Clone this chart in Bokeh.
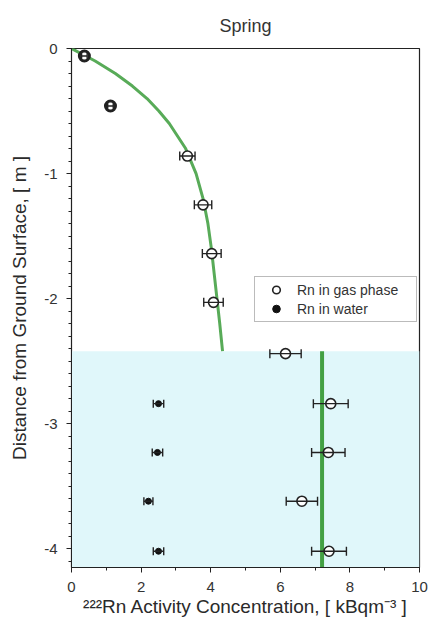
from bokeh.plotting import figure
from bokeh.models import (Whisker, TeeHead, ColumnDataSource, Legend, LegendItem,
                          SingleIntervalTicker, Range1d)
from bokeh.embed import file_html
from bokeh.resources import INLINE

# ---- data ----
title_text = "Spring"
gas_conc = [0.37, 1.12, 3.33, 3.78, 4.03, 4.08, 6.15, 7.45, 7.38, 6.62, 7.40]
gas_depth = [-0.06, -0.46, -0.86, -1.25, -1.64, -2.03, -2.44, -2.84, -3.23, -3.62, -4.02]
gas_err = [0.08, 0.08, 0.22, 0.25, 0.27, 0.28, 0.45, 0.50, 0.48, 0.45, 0.50]

water_conc = [2.50, 2.47, 2.21, 2.50]
water_depth = [-2.84, -3.23, -3.62, -4.02]
water_err = [0.15, 0.15, 0.13, 0.15]

fit_depth = [0.0, -0.1, -0.2, -0.3, -0.4, -0.5, -0.6, -0.8, -1.0, -1.2, -1.4, -1.6, -1.8, -2.0, -2.2, -2.42]
fit_conc = [0.0, 0.68, 1.26, 1.75, 2.17, 2.51, 2.81, 3.28, 3.58, 3.78, 3.92, 4.02, 4.10, 4.18, 4.26, 4.34]

bulk_depth = [-2.42, -4.15]
bulk_conc = [7.2, 7.2]

water_table = -2.42
x_min, x_max = 0, 10
y_min, y_max = -4.15, 0
y_ticks = [0, -1, -2, -3, -4]
y_tick_labels = ["0", "-1", "-2", "-3", "-4"]

x_label = "\u00b2\u00b2\u00b2Rn Activity Concentration, [ kBqm\u207b\u00b3 ]"
y_label = "Distance from Ground Surface, [ m ]"
font = "Liberation Sans"
ink = "#222222"

p = figure(width=433, height=625, output_backend="svg", toolbar_location=None,
           x_range=Range1d(x_min, x_max), y_range=Range1d(y_min, y_max),
           min_border_left=71, min_border_right=14, min_border_top=47, min_border_bottom=58)
p.xgrid.visible = False
p.ygrid.visible = False
p.outline_line_color = ink
p.outline_line_width = 1.2
p.background_fill_color = "white"
p.border_fill_color = "white"

p.title.text = title_text
p.title.align = "center"
p.title.text_font = font
p.title.text_font_size = "18px"
p.title.text_font_style = "normal"
p.title.text_color = "#333333"
p.title.standoff = 26

# saturated zone
p.quad(left=[x_min], right=[x_max], top=[water_table], bottom=[y_min],
       fill_color="#e0f7fa", line_color=None)

# fit curves
p.line(fit_conc, fit_depth, line_color="#58ab58", line_width=3)
p.line(bulk_conc, bulk_depth, line_color="#43a043", line_width=4)

# sources
gas_lw = [3.0 if d > -0.5 else 1.6 for d in gas_depth]
gsrc = ColumnDataSource(dict(x=gas_conc, y=gas_depth, lw=gas_lw,
                             lo=[c - e for c, e in zip(gas_conc, gas_err)],
                             hi=[c + e for c, e in zip(gas_conc, gas_err)]))
wsrc = ColumnDataSource(dict(x=water_conc, y=water_depth,
                             lo=[c - e for c, e in zip(water_conc, water_err)],
                             hi=[c + e for c, e in zip(water_conc, water_err)]))

# error bars
for src, cap in ((gsrc, 9), (wsrc, 8)):
    w = Whisker(source=src, base="y", lower="lo", upper="hi", dimension="width",
                level="overlay", line_color=ink, line_width=1.4,
                lower_head=TeeHead(size=cap, line_color=ink, line_width=1.4),
                upper_head=TeeHead(size=cap, line_color=ink, line_width=1.4))
    p.add_layout(w)

gas_r = p.scatter("x", "y", source=gsrc, marker="circle", size=10, level="overlay",
                  fill_color="white", line_color=ink, line_width="lw")
water_r = p.scatter("x", "y", source=wsrc, marker="circle", size=6, level="overlay",
                    fill_color="#111111", line_color="#111111")

legend = Legend(items=[LegendItem(label="Rn in gas phase", renderers=[gas_r], index=2),
                       LegendItem(label="Rn in water", renderers=[water_r], index=0)],
                location=(183, 245), label_text_font=font, label_text_font_size="14px",
                label_text_color="#333333", spacing=0, padding=3, margin=0,
                glyph_height=19, glyph_width=36, label_height=19, label_standoff=3,
                label_width=116,
                border_line_color="#777777", border_line_width=1,
                background_fill_color="white", background_fill_alpha=1.0)
p.add_layout(legend)

# axes
p.xaxis.ticker = SingleIntervalTicker(interval=2, num_minor_ticks=2)
p.yaxis.ticker = SingleIntervalTicker(interval=1, num_minor_ticks=10)
p.yaxis.major_label_overrides = {t: s for t, s in zip(y_ticks, y_tick_labels)}
for ax in (p.xaxis[0], p.yaxis[0]):
    ax.axis_line_color = ink
    ax.major_tick_line_color = ink
    ax.minor_tick_line_color = ink
    ax.major_tick_out = 5
    ax.major_tick_in = 0
    ax.minor_tick_out = 3
    ax.minor_tick_in = 0
    ax.major_label_text_font = font
    ax.major_label_text_font_size = "15px"
    ax.major_label_text_color = "#333333"
    ax.axis_label_text_font = font
    ax.axis_label_text_font_size = "19px"
    ax.axis_label_text_font_style = "normal"
    ax.axis_label_text_color = "#2a2a2a"
p.xaxis.axis_label = x_label
p.yaxis.axis_label = y_label
p.xaxis.major_label_standoff = 9
p.yaxis.major_label_standoff = 9
p.xaxis.axis_label_standoff = 1
p.yaxis.axis_label_standoff = 11

open("out.html", "w").write(file_html(p, INLINE))
